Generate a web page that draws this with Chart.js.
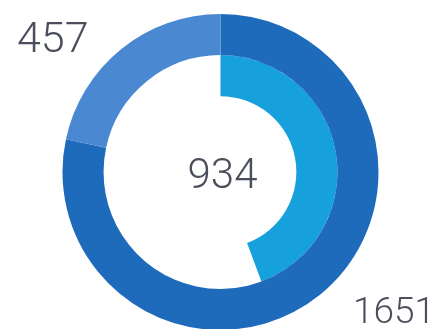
<!DOCTYPE html>
<html>
<head>
<meta charset="utf-8">
<script src="https://cdn.jsdelivr.net/npm/chart.js@4/dist/chart.umd.min.js"></script>
<style>
  html, body { margin: 0; padding: 0; background: #ffffff; overflow: hidden; width: 441px; height: 329px; }
  #wrap { position: absolute; left: 0; top: 0; width: 441px; height: 344px; }
  .lbl { position: absolute; font-family: Roboto, "Open Sans", sans-serif; font-weight: 300; color: #4b4f5c; line-height: 1; white-space: nowrap; }
</style>
</head>
<body>
<div id="wrap"><canvas id="c" width="441" height="344"></canvas></div>
<div id="l1" class="lbl" style="left:17px; top:16px; font-size:43px;"></div>
<div id="l2" class="lbl" style="left:2px; width:441px; text-align:center; top:153px; font-size:42px;"></div>
<div id="l3" class="lbl" style="right:6px; top:292px; font-size:37px;"></div>
<script>
const outerLabels = ["1651", "457"];
const outerValues = [1651, 457];
const innerValue = 934;
const outerColors = ["#1e6bbc", "#4a88d2"];
const innerColor = "#16a0dc";

const total = outerValues.reduce((a, b) => a + b, 0);

document.getElementById('l1').textContent = String(outerValues[1]);
document.getElementById('l2').textContent = String(innerValue);
document.getElementById('l3').textContent = String(outerValues[0]);

new Chart(document.getElementById('c'), {
  type: 'doughnut',
  data: {
    labels: outerLabels,
    datasets: [
      { data: outerValues, backgroundColor: outerColors, borderWidth: 0 },
      { data: [innerValue, total - innerValue], backgroundColor: [innerColor, 'rgba(0,0,0,0)'], borderWidth: 0 }
    ]
  },
  options: {
    responsive: false,
    animation: false,
    cutout: '48%',
    layout: { padding: { top: 14, bottom: 14 } },
    plugins: { legend: { display: false }, tooltip: { enabled: false } }
  }
});
</script>
</body>
</html>
